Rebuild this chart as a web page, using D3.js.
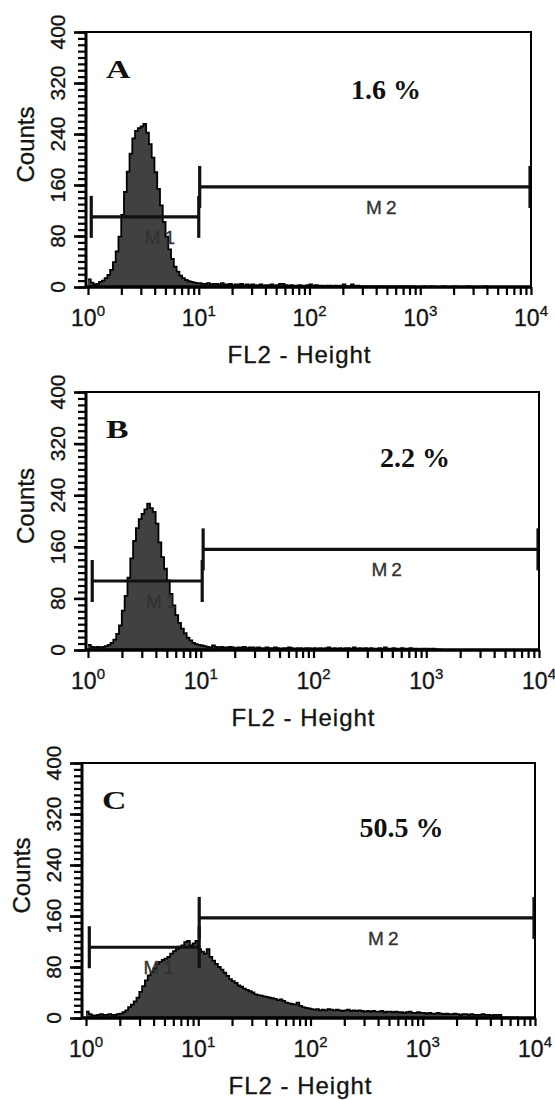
<!DOCTYPE html>
<html>
<head>
<meta charset="utf-8">
<script src="https://cdn.jsdelivr.net/npm/d3@7"></script>
<style>
  body { margin: 0; background: #fff; }
  svg { display: block; }
  .sans { font-family: "Liberation Sans", Arial, sans-serif; stroke: #222; stroke-width: 0.35px; }
  .serif { font-family: "Liberation Serif", "Times New Roman", serif; font-weight: bold; }
</style>
</head>
<body>
<div id="chart"></div>
<script>
var svgWidth = 555;
var svgHeight = 1100;

// histogram bins: 40 per decade starting at 10^0 (FL2 channel, log)
var binsPerDecade = 40;

var countsA = [
  12, 7, 4, 5, 8, 10, 14, 19, 27, 39,
  56, 79, 113, 149, 181, 209, 233, 245, 249, 252,
  256, 242, 224, 203, 180, 154, 128, 102, 79, 59,
  44, 32, 24, 18, 14, 11, 9, 8, 7, 6,
  6, 5, 5, 6, 4, 5, 5, 4, 6, 4,
  4, 5, 3, 4, 4, 5, 3, 4, 3, 4,
  3, 3, 4, 2, 3, 3, 4, 2, 3, 5,
  5, 3, 2, 3, 2, 2, 3, 2, 2, 3,
  4, 2, 3, 2, 2, 1, 2, 2, 1, 2,
  1, 2, 4, 1, 1, 4, 1, 2, 1, 1,
  1, 1, 1, 0, 1, 1, 1, 0, 1, 1,
  1, 0, 1, 0, 1, 1, 0, 1, 0, 0,
  0, 1, 0, 0, 1, 0, 0, 0, 1, 0,
  0, 0, 1, 0, 0, 0, 0, 1, 0, 0,
  0, 0, 0, 1, 0, 0, 0, 0, 0, 0,
  0, 0, 0, 0, 0, 0, 0, 0, 0, 0
];

var countsB = [
  8, 5, 4, 5, 4, 5, 6, 8, 11, 16,
  25, 38, 61, 84, 112, 142, 169, 189, 203, 211,
  218, 227, 220, 214, 196, 167, 144, 126, 108, 87,
  69, 54, 42, 33, 26, 19, 15, 11, 9, 8,
  7, 6, 5, 4, 7, 5, 4, 5, 4, 4,
  5, 4, 3, 4, 4, 5, 3, 4, 4, 3,
  4, 3, 3, 4, 3, 3, 4, 3, 2, 3,
  3, 4, 3, 2, 3, 3, 2, 3, 3, 2,
  3, 2, 3, 2, 3, 4, 2, 3, 2, 3,
  2, 3, 3, 2, 4, 2, 3, 2, 3, 2,
  3, 2, 2, 3, 2, 4, 2, 2, 3, 2,
  2, 3, 2, 2, 3, 2, 2, 1, 2, 2,
  2, 1, 2, 1, 1, 0, 0, 0, 0, 0,
  0, 0, 0, 0, 0, 0, 0, 0, 0, 0,
  0, 0, 0, 0, 0, 0, 0, 0, 0, 0,
  0, 0, 0, 0, 0, 0, 0, 0, 0, 0
];

var countsC = [
  10, 6, 4, 4, 5, 6, 5, 5, 6, 5,
  5, 6, 7, 9, 12, 17, 21, 26, 32, 41,
  50, 59, 67, 72, 78, 85, 88, 91, 93, 96,
  101, 105, 108, 112, 114, 119, 121, 114, 117, 121,
  108, 104, 101, 108, 96, 90, 85, 80, 76, 71,
  66, 61, 58, 55, 51, 49, 46, 44, 42, 40,
  37, 36, 35, 34, 33, 32, 31, 30, 28, 29,
  27, 24, 23, 22, 21, 24, 19, 17, 16, 15,
  14, 13, 14, 12, 13, 12, 14, 13, 12, 13,
  12, 11, 12, 13, 11, 12, 11, 12, 11, 10,
  11, 10, 11, 10, 10, 11, 9, 10, 10, 9,
  10, 9, 9, 8, 9, 10, 8, 8, 9, 8,
  8, 7, 8, 7, 7, 8, 7, 6, 7, 6,
  6, 7, 6, 5, 6, 6, 5, 6, 5, 5,
  5, 6, 5, 5, 4, 5, 5, 5, 1, 1,
  1, 1, 0, 1, 0, 0, 0, 0, 0, 0
];

var panelNames = ["A", "B", "C"];
var percentLabels = ["1.6 %", "2.2 %", "50.5 %"];
// [FL2 value, count] where the percent text sits
var percentPos = [[490, 295], [794, 284], [646, 284]];

// gates: [name, low, high, level]
var gatesA = [["M1", 1.07, 10, 110], ["M2", 10.2, 10000, 157]];
var gatesB = [["M1", 1.09, 10.3, 107], ["M2", 10.5, 10000, 156]];
var gatesC = [["M1", 1.07, 10.2, 111], ["M2", 10.2, 10000, 157]];
var gateLabelAt = { M1: 4.64, M2: 464 };

var xDecades = [1, 10, 100, 1000, 10000];
var yTicks = [0, 80, 160, 240, 320, 400];

var panelCounts = [countsA, countsB, countsC];
var panelGates = [gatesA, gatesB, gatesC];

// frame placement of each panel
var layout = [
  { left: 86, x0: 88, right: 531, top: 32, bottom: 287 },
  { left: 86, x0: 88, right: 539, top: 392, bottom: 650 },
  { left: 82, x0: 86, right: 535, top: 763, bottom: 1018 }
];

var svg = d3.select("#chart")
  .append("svg")
  .attr("width", svgWidth)
  .attr("height", svgHeight);

layout.forEach(function(L, i) {
  var g = svg.append("g");

  var x = d3.scaleLog().domain([1, 1e4]).range([L.x0, L.right]);
  var y = d3.scaleLinear().domain([0, 400]).range([L.bottom, L.top]);

  var clipId = "clip" + i;
  svg.append("clipPath").attr("id", clipId)
    .append("rect")
    .attr("x", L.left).attr("y", L.top)
    .attr("width", L.right - L.left).attr("height", L.bottom - L.top);

  // histogram
  var counts = panelCounts[i];
  var pts = counts.map(function(c, k) {
    return { v: Math.pow(10, k / binsPerDecade), c: c };
  });
  pts.push({ v: 1e4, c: counts[counts.length - 1] });

  var area = d3.area()
    .curve(d3.curveStepAfter)
    .x(d => x(d.v))
    .y0(y(0))
    .y1(d => y(d.c));

  var line = d3.line()
    .curve(d3.curveStepAfter)
    .x(d => x(d.v))
    .y(d => y(d.c));

  var hist = g.append("g").attr("clip-path", "url(#" + clipId + ")");
  hist.append("path")
    .datum(pts)
    .attr("d", area)
    .attr("fill", "#414141");
  hist.append("path")
    .datum(pts)
    .attr("d", line)
    .attr("fill", "none")
    .attr("stroke", "#000")
    .attr("stroke-width", 1.8);

  // gates
  panelGates[i].forEach(function(m) {
    var x1 = x(m[1]), x2 = Math.min(x(m[2]), L.right - 1), yy = y(m[3]);
    var gg = g.append("g").attr("stroke", "#111").attr("stroke-width", 3.2);
    gg.append("line").attr("x1", x1).attr("x2", x2).attr("y1", yy).attr("y2", yy);
    gg.append("line").attr("x1", x1).attr("x2", x1).attr("y1", yy - 21).attr("y2", yy + 21);
    gg.append("line").attr("x1", x2).attr("x2", x2).attr("y1", yy - 21).attr("y2", yy + 21);
    g.append("text")
      .attr("class", "sans")
      .attr("x", x(gateLabelAt[m[0]]))
      .attr("y", yy + 27)
      .attr("text-anchor", "middle")
      .attr("font-size", "19px")
      .attr("letter-spacing", "4px")
      .attr("fill", "#333")
      .style("stroke", "#333")
      .text(m[0]);
  });

  // frame
  g.append("rect")
    .attr("x", L.left).attr("y", L.top)
    .attr("width", L.right - L.left).attr("height", L.bottom - L.top)
    .attr("fill", "none").attr("stroke", "#000").attr("stroke-width", 2);
  g.append("line")
    .attr("x1", L.left).attr("x2", L.left).attr("y1", L.top).attr("y2", L.bottom + 1)
    .attr("stroke", "#000").attr("stroke-width", 3);
  g.append("line")
    .attr("x1", L.left).attr("x2", L.right).attr("y1", L.bottom).attr("y2", L.bottom)
    .attr("stroke", "#000").attr("stroke-width", 3.4);

  // x axis ticks
  var xAxisG = g.append("g")
    .attr("transform", `translate(0, ${L.bottom})`)
    .call(d3.axisBottom(x).tickValues(x.ticks()).tickSize(8).tickFormat(""));
  xAxisG.select(".domain").remove();
  xAxisG.selectAll("line").attr("stroke", "#000").attr("stroke-width", 2.2);

  // y axis ticks (minor every 10, major every 80)
  var yMinor = g.append("g")
    .attr("transform", `translate(${L.left}, 0)`)
    .call(d3.axisLeft(y).tickValues(d3.range(0, 401, 10)).tickSize(8).tickFormat(""));
  yMinor.select(".domain").remove();
  yMinor.selectAll("line").attr("stroke", "#000").attr("stroke-width", 2.2);

  var yMajor = g.append("g")
    .attr("transform", `translate(${L.left}, 0)`)
    .call(d3.axisLeft(y).tickValues(yTicks).tickSize(12).tickFormat(""));
  yMajor.select(".domain").remove();
  yMajor.selectAll("line").attr("stroke", "#000").attr("stroke-width", 2.6);

  // x tick labels 10^n
  xDecades.forEach(function(v, k) {
    var t = g.append("text")
      .attr("class", "sans")
      .attr("x", x(v))
      .attr("y", L.bottom + 39)
      .attr("text-anchor", "middle")
      .attr("font-size", "23px")
      .attr("fill", "#111");
    t.append("tspan").text("10");
    t.append("tspan").attr("dy", -10).attr("font-size", "15px").text(k);
  });

  // y tick labels, rotated
  yTicks.forEach(function(v) {
    var lx = L.left - 21, ly = y(v);
    g.append("text")
      .attr("class", "sans")
      .attr("x", lx).attr("y", ly)
      .attr("transform", `rotate(-90, ${lx}, ${ly})`)
      .attr("text-anchor", "middle")
      .attr("font-size", "21px")
      .attr("fill", "#111")
      .text(v);
  });

  // axis titles
  var cx = L.left - 52, cy = (L.top + L.bottom) / 2 - 15;
  g.append("text")
    .attr("class", "sans")
    .attr("x", cx).attr("y", cy)
    .attr("transform", `rotate(-90, ${cx}, ${cy})`)
    .attr("text-anchor", "middle")
    .attr("font-size", "24px")
    .attr("fill", "#111")
    .text("Counts");

  g.append("text")
    .attr("class", "sans")
    .attr("x", (L.x0 + L.right) / 2 - 10)
    .attr("y", L.bottom + 76)
    .attr("text-anchor", "middle")
    .attr("font-size", "24px")
    .attr("letter-spacing", "1px")
    .attr("fill", "#111")
    .text("FL2 - Height");

  // panel letter and percent
  g.append("text")
    .attr("class", "serif")
    .attr("transform", `translate(${L.left + 20}, ${L.top + 46}) scale(1.3, 1)`)
    .attr("font-size", "26px")
    .attr("fill", "#111")
    .text(panelNames[i]);

  g.append("text")
    .attr("class", "serif")
    .attr("x", x(percentPos[i][0]))
    .attr("y", y(percentPos[i][1]))
    .attr("text-anchor", "middle")
    .attr("font-size", "28px")
    .attr("fill", "#111")
    .text(percentLabels[i]);
});
</script>
</body>
</html>
